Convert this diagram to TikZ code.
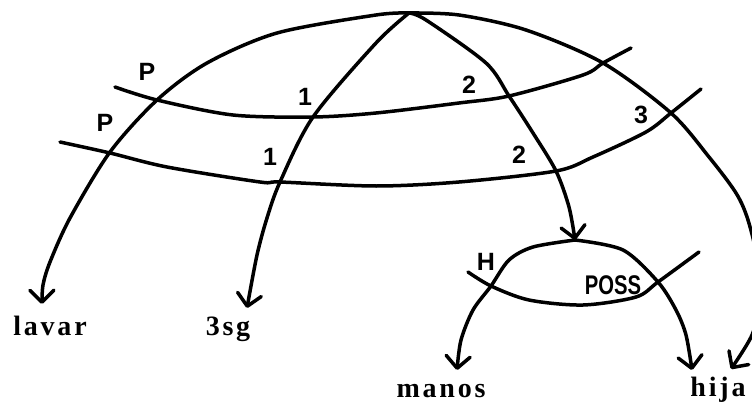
\documentclass[tikz,border=0pt]{standalone}
\usepackage{fontspec}
\usetikzlibrary{arrows.meta}
\newfontfamily\imprime[LetterSpace=10]{Liberation Serif}
\newfontfamily\manuscrit{Liberation Sans}
\newfontfamily\manuscritetroit[FakeStretch=0.75]{Liberation Sans}

\begin{document}
\begin{tikzpicture}[x=1pt, y=-1pt, line width=3.5pt, line cap=round, line join=round,
		arc/.style={-{Straight Barb[length=12pt,width=24pt,round]}},
		mot/.style={inner sep=0pt, anchor=base, font=\imprime\bfseries\fontsize{28}{28}\selectfont},
		rel/.style={inner sep=0pt, font=\manuscrit\bfseries\fontsize{25}{25}\selectfont},
		reletroit/.style={inner sep=0pt, font=\manuscritetroit\bfseries\fontsize{27}{27}\selectfont}]
			\useasboundingbox (0,0) rectangle (752,404);
			\coordinate (sommet) at (409,13);
			\coordinate (poss) at (575,240);
			\node[mot] (lavar) at (50,335) {lavar};
			\node[mot] (troissg) at (228,335) {3sg};
			\node[mot] (manos) at (441,397) {manos};
			\node[mot] (hija) at (718,396) {hija};
			\coordinate (pointelavar) at (42,304);
			\coordinate (pointetroissg) at (247,308);
			\coordinate (pointemanos) at (457,370);
			\coordinate (pointehija) at (692,370);
			\coordinate (pointehijab) at (731,369);
			\begin{scope}
				\draw plot[smooth] coordinates {(115,87) (157,100) (233,115) (313,117) (376,113) (459,103) (509,96) (583,75) (603,63) (631,48)};
				\draw plot[smooth] coordinates {(60,142) (110,153) (167,167) (260,182) (280,182) (376,186) (459,182) (556,171) (593,157) (646,132) (671,113) (701,89)};
				\draw[arc] plot[smooth] coordinates {(sommet) (376,15) (277,33) (207,63) (157,100) (110,152) (70,218) (50,262) (43,285) (pointelavar)};
				\draw[arc] plot[smooth] coordinates {(sommet) (376,43) (313,117) (280,182) (267,218) (257,255) (pointetroissg)};
				\draw[arc] plot[smooth] coordinates {(sommet) (426,20) (486,63) (509,96) (533,133) (556,171) (569,207) (poss)};
				\draw[arc] plot[smooth] coordinates {(sommet) (459,15) (526,30) (603,63) (671,113) (709,157) (736,193) (748,220) (758,262) (760,300) (752,335) (pointehijab)};
				\node[rel] at (147,72) {P};
				\node[rel] at (105,123) {P};
				\node[rel] at (305,97) {1};
				\node[rel] at (270,157) {1};
				\node[rel] at (469,85) {2};
				\node[rel] at (519,155) {2};
				\node[rel] at (641,115) {3};
			\end{scope}
			\begin{scope}
				\draw plot[smooth] coordinates {(468,272) (491,286) (529,300) (583,305) (636,297) (658,282) (699,252)};
				\draw[arc] plot[smooth] coordinates {(poss) (533,247) (509,260) (491,286) (473,310) (461,340) (pointemanos)};
				\draw[arc] plot[smooth] coordinates {(poss) (623,250) (658,282) (676,310) (686,335) (pointehija)};
				\node[rel] at (486,262) {H};
				\node[reletroit] at (613,285) {POSS};
			\end{scope}
		\end{tikzpicture}
\end{document}
